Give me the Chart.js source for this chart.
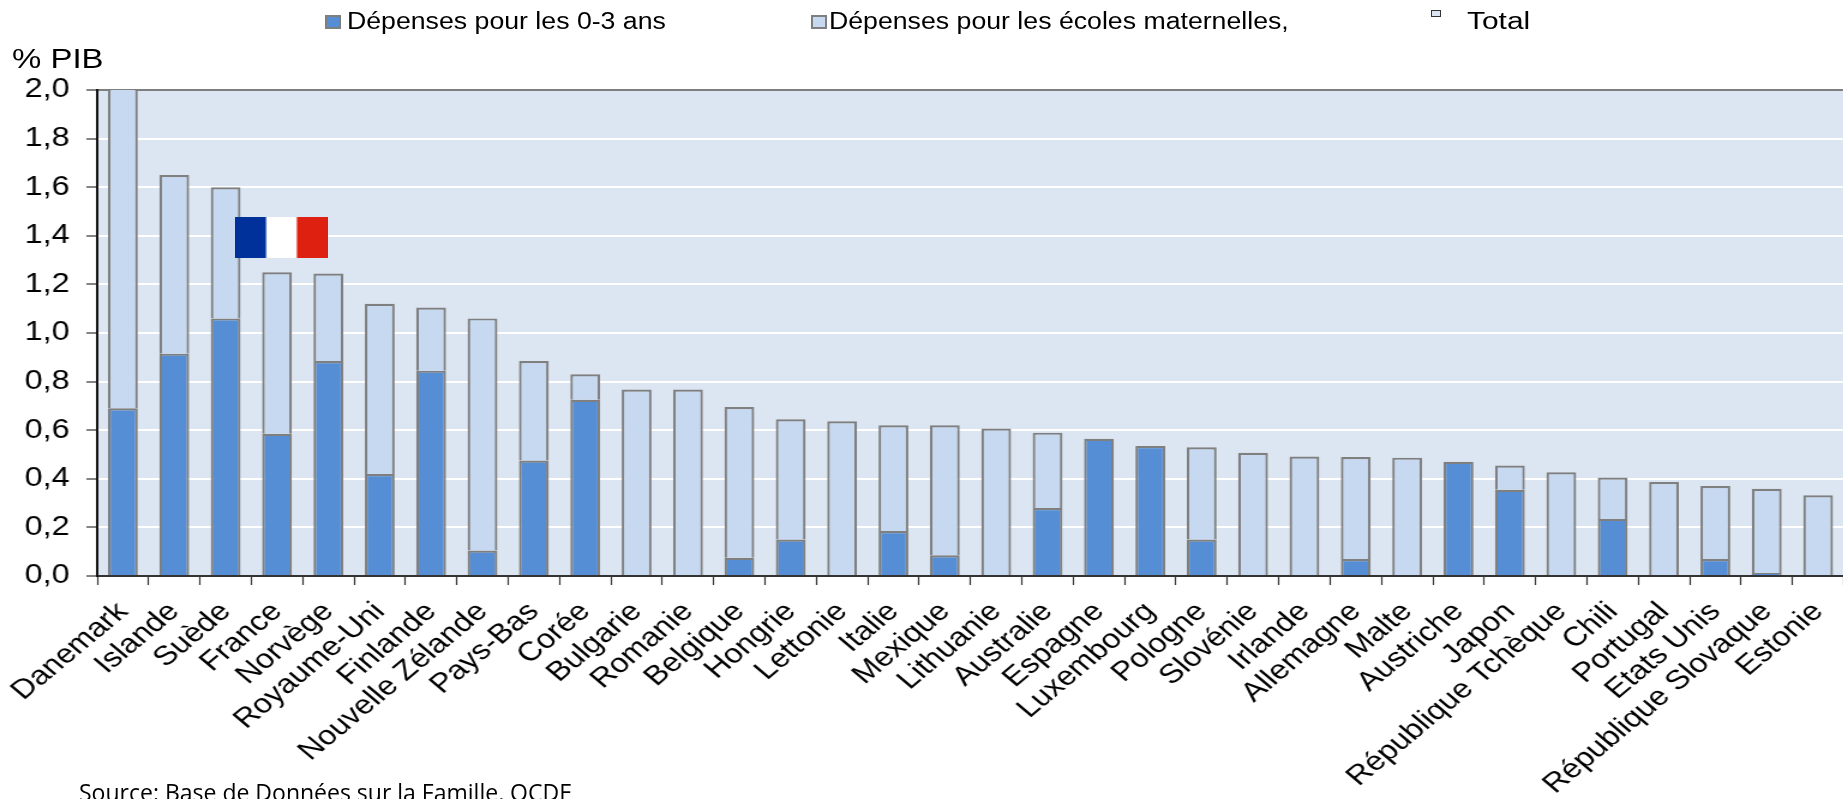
<!DOCTYPE html>
<html lang="fr">
<head>
<meta charset="utf-8">
<title>Dépenses pour la petite enfance</title>
<script src="https://cdn.jsdelivr.net/npm/chart.js@4/dist/chart.umd.min.js"></script>
<style>
  html, body { margin:0; padding:0; background:#fff; overflow:hidden; }
  #wrap { position:relative; width:1843px; height:799px; overflow:hidden; font-family:"Liberation Sans", Arial, sans-serif; color:#000; }
  /* the original picture is stretched sideways, so the canvas is too */
  canvas { position:absolute; left:0; top:0; transform:scaleX(1.2); transform-origin:0 0; }
  .lg { position:absolute; font-size:23px; line-height:30px; top:6px; white-space:nowrap; transform:scaleX(1.16); transform-origin:0 0; }
  .sw { position:absolute; box-sizing:border-box; border:2px solid #7f7f7f; }
  .unit { position:absolute; left:12px; top:42px; font-size:27px; line-height:34px; transform:scaleX(1.22); transform-origin:0 0; }
  .flag { position:absolute; left:235px; top:217px; width:93px; height:41px; background:linear-gradient(90deg,#00309a 0 32%,#fff 35% 65%,#de2010 68%); }
  .src { position:absolute; left:79px; top:778px; font-family:"Open Sans", sans-serif; font-size:23px; line-height:28px; white-space:nowrap; }
</style>
</head>
<body>
<div id="wrap">
  <canvas id="ch" width="1549" height="799"></canvas>
  <div class="sw" style="left:325px;top:15px;width:16px;height:14px;background:#558ed5"></div>
  <div class="lg" style="left:347px">Dépenses pour les 0-3 ans</div>
  <div class="sw" style="left:811px;top:15px;width:16px;height:14px;background:#c6d9f1"></div>
  <div class="lg" style="left:829px">Dépenses pour les écoles maternelles,</div>
  <div class="sw" style="left:1431px;top:10px;width:10px;height:7px;border-width:1px;border-color:#333;background:#dce6f2"></div>
  <div class="lg" style="left:1467px;transform:scaleX(1.3)">Total</div>
  <div class="unit">% PIB</div>
  <div class="flag"></div>
  <div class="src">Source: Base de Données sur la Famille, OCDE</div>
</div>
<script>
const categories = ['Danemark','Islande','Suède','France','Norvège','Royaume-Uni','Finlande','Nouvelle Zélande','Pays-Bas','Corée','Bulgarie','Romanie','Belgique','Hongrie','Lettonie','Italie','Mexique','Lithuanie','Australie','Espagne','Luxembourg','Pologne','Slovénie','Irlande','Allemagne','Malte','Austriche','Japon','République Tchèque','Chili','Portugal','Etats Unis','République Slovaque','Estonie'];
const depenses03 = [0.69,0.915,1.06,0.585,0.885,0.42,0.845,0.105,0.475,0.725,0,0,0.075,0.15,0,0.185,0.085,0,0.28,0.565,0.535,0.15,0,0,0.07,0,0.47,0.355,0,0.235,0,0.07,0.012,0];
const maternelles = [1.4,0.735,0.54,0.665,0.36,0.70,0.26,0.955,0.41,0.105,0.767,0.767,0.62,0.495,0.637,0.435,0.535,0.607,0.31,0,0,0.38,0.507,0.492,0.42,0.487,0,0.10,0.427,0.17,0.387,0.30,0.347,0.332];
const yTicks = ['0,0','0,2','0,4','0,6','0,8','1,0','1,2','1,4','1,6','1,8','2,0'];

const plotBg = {
  id:'plotBg',
  beforeDraw(c) {
    const a = c.chartArea;
    c.ctx.fillStyle = '#dce6f2';
    c.ctx.fillRect(a.left, a.top, a.right - a.left, a.bottom - a.top);
  }
};

const font = { family:'"Liberation Sans", Arial, sans-serif', size:27 };

new Chart(document.getElementById('ch').getContext('2d'), {
  type:'bar',
  data:{
    labels:categories,
    datasets:[
      { label:'Dépenses pour les 0-3 ans', data:depenses03, backgroundColor:'#558ed5', borderColor:'#7f7f7f', borderWidth:2.2, barPercentage:.58, categoryPercentage:1 },
      { label:'Dépenses pour les écoles maternelles,', data:maternelles, backgroundColor:'#c6d9f1', borderColor:'#7f7f7f', borderWidth:2.2, barPercentage:.58, categoryPercentage:1 }
    ]
  },
  options:{
    responsive:false, animation:false,
    layout:{ padding:{ top:90, left:0, right:0, bottom:0 } },
    plugins:{ legend:{ display:false }, tooltip:{ enabled:false } },
    scales:{
      x:{
        stacked:true,
        afterFit: s => { s.height = 223; },
        grid:{ drawOnChartArea:false, tickColor:'#333', tickLength:9, tickWidth:1.2 },
        border:{ color:'#333', width:2 },
        ticks:{ color:'#000', font, minRotation:45, maxRotation:45, autoSkip:false, padding:11 }
      },
      y:{
        stacked:true, min:0, max:2,
        afterFit: s => { s.width = 81; },
        grid:{ color: c => c.tick && c.tick.value >= 2 ? '#7f7f7f' : '#ffffff', lineWidth:2, tickColor:'#333', tickLength:9, tickWidth:1.2 },
        border:{ color:'#111', width:2 },
        ticks:{ color:'#000', font, stepSize:.2, padding:14, callback:(v, i) => yTicks[i] }
      }
    }
  },
  plugins:[plotBg]
});
</script>
</body>
</html>
